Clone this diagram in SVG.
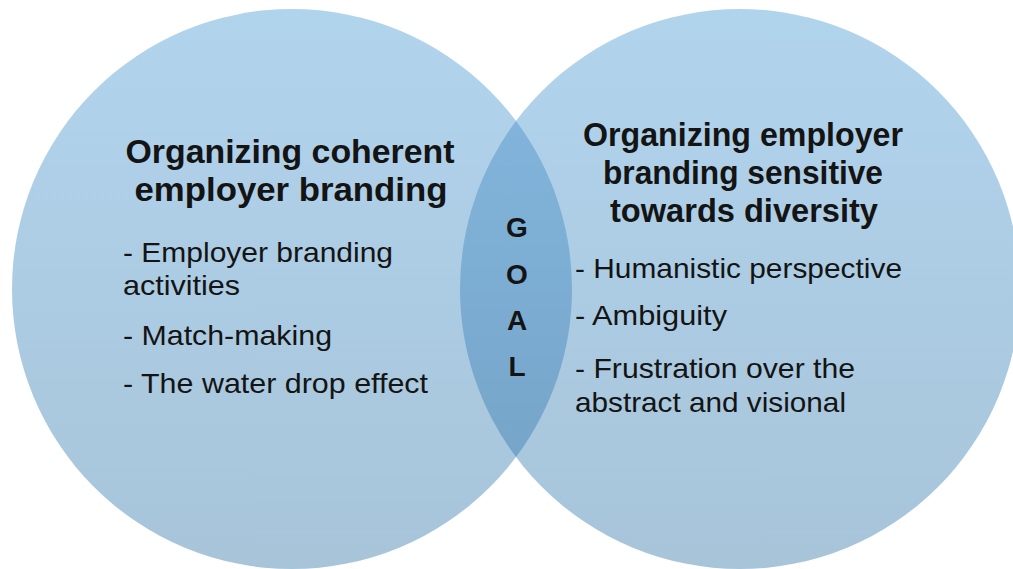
<svg xmlns="http://www.w3.org/2000/svg" width="1013" height="569" viewBox="0 0 1013 569">
<defs>
<linearGradient id="gCircle" gradientUnits="userSpaceOnUse" x1="0" y1="9" x2="0" y2="569">
<stop offset="0" stop-color="#B1D4ED"/>
<stop offset="1" stop-color="#A7C4D9"/>
</linearGradient>
<linearGradient id="gLens" gradientUnits="userSpaceOnUse" x1="0" y1="121" x2="0" y2="457">
<stop offset="0" stop-color="#82B4DB"/>
<stop offset="1" stop-color="#76A5C9"/>
</linearGradient>
<style>
.h{font-family:"Liberation Sans",Arial,sans-serif;font-weight:bold;font-size:33px;fill:#141414;text-anchor:middle}
.b{font-family:"Liberation Sans",Arial,sans-serif;font-size:28px;fill:#141414}
.g{font-family:"Liberation Sans",Arial,sans-serif;font-weight:bold;font-size:28px;fill:#141414;text-anchor:middle}
</style>
</defs>
<rect width="1013" height="569" fill="#ffffff"/>
<g id="left-circle">
<circle cx="292" cy="289" r="280" fill="url(#gCircle)"/>
</g>
<g id="right-circle">
<circle cx="740" cy="289" r="280" fill="url(#gCircle)"/>
</g>
<g id="goal-lens">
<path d="M516 121 A280 280 0 0 1 516 457 A280 280 0 0 1 516 121 Z" fill="url(#gLens)"/>
<text class="g" x="517" y="237">G</text>
<text class="g" x="517" y="284">O</text>
<text class="g" x="517" y="330">A</text>
<text class="g" x="517" y="376">L</text>
</g>
<g id="left-text">
<text class="h" x="290" y="163" textLength="329" lengthAdjust="spacingAndGlyphs">Organizing coherent</text>
<text class="h" x="291" y="201" textLength="313" lengthAdjust="spacingAndGlyphs">employer branding</text>
<text class="b" x="123" y="262" textLength="270" lengthAdjust="spacingAndGlyphs">- Employer branding</text>
<text class="b" x="123" y="295" textLength="117" lengthAdjust="spacingAndGlyphs">activities</text>
<text class="b" x="123" y="345" textLength="209" lengthAdjust="spacingAndGlyphs">- Match-making</text>
<text class="b" x="123" y="393" textLength="305" lengthAdjust="spacingAndGlyphs">- The water drop effect</text>
</g>
<g id="right-text">
<text class="h" x="743" y="146" textLength="320" lengthAdjust="spacingAndGlyphs">Organizing employer</text>
<text class="h" x="743" y="184" textLength="280" lengthAdjust="spacingAndGlyphs">branding sensitive</text>
<text class="h" x="744" y="222" textLength="268" lengthAdjust="spacingAndGlyphs">towards diversity</text>
<text class="b" x="575" y="278" textLength="327" lengthAdjust="spacingAndGlyphs">- Humanistic perspective</text>
<text class="b" x="575" y="325" textLength="152" lengthAdjust="spacingAndGlyphs">- Ambiguity</text>
<text class="b" x="575" y="378" textLength="280" lengthAdjust="spacingAndGlyphs">- Frustration over the</text>
<text class="b" x="575" y="412" textLength="271" lengthAdjust="spacingAndGlyphs">abstract and visional</text>
</g>
<g id="connectors"></g>
</svg>
